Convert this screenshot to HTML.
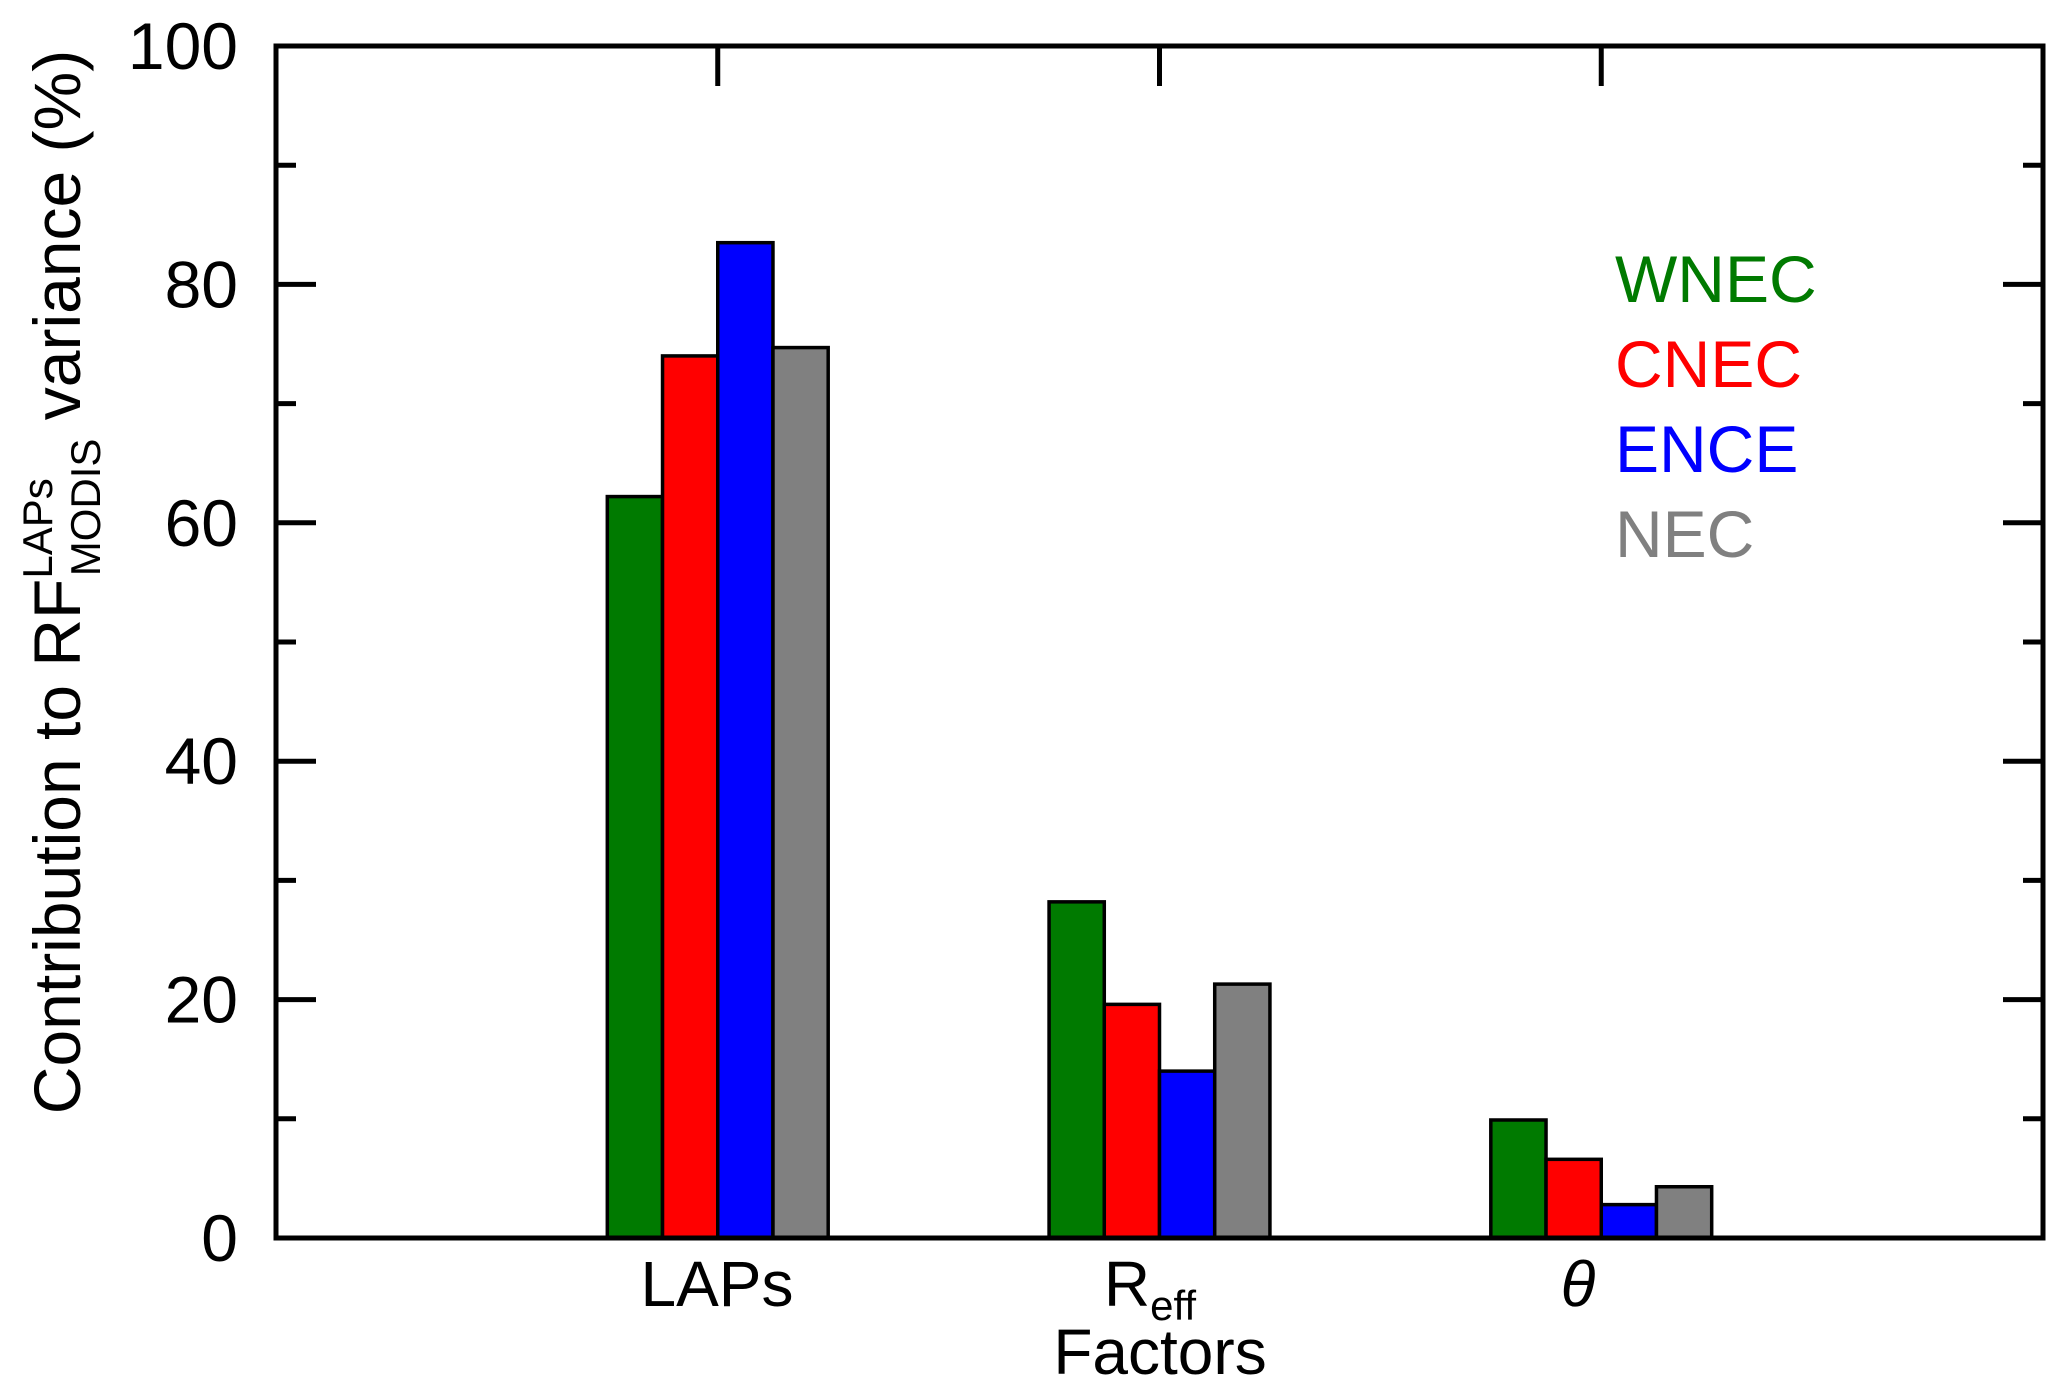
<!DOCTYPE html>
<html><head><meta charset="utf-8"><style>
html,body{margin:0;padding:0;background:#fff;}
svg{display:block;font-family:"Liberation Sans",Arial,sans-serif;}
</style></head><body>
<svg id="chart" width="2067" height="1399" viewBox="0 0 2067 1399" xmlns="http://www.w3.org/2000/svg">
<g id="bars"></g>
<g id="axes"></g>
<g font-size="66">
<text x="1615" y="302" fill="#007a00">WNEC</text>
<text x="1615" y="387" fill="#ff0000">CNEC</text>
<text x="1615" y="472" fill="#0000ff">ENCE</text>
<text x="1615" y="557" fill="#808080">NEC</text>
</g>
<g font-size="64" text-anchor="middle">
<text x="717" y="1306">LAPs</text>
<text x="1150" y="1306">R<tspan font-size="42" dy="14">eff</tspan></text>
<text x="1578" y="1306" font-style="italic">θ</text>
<text x="1160" y="1374">Factors</text>
</g>
<text transform="translate(80,582) rotate(-90)" text-anchor="middle" font-size="66">Contribution to RF<tspan font-size="42" dy="-28">LAPs</tspan><tspan font-size="42" dx="-98" dy="48">MODIS</tspan><tspan dy="-20"> variance (%)</tspan></text>
</svg>
<script>
const categories = ["LAPs","Reff","theta"];
const seriesNames = ["WNEC","CNEC","ENCE","NEC"];
const wnec = [62.2, 28.2, 9.9];
const cnec = [74.0, 19.6, 6.6];
const ence = [83.5, 14.0, 2.8];
const nec = [74.7, 21.3, 4.3];
const yTicks = [0,20,40,60,80,100];
const seriesValues = [wnec, cnec, ence, nec];
const colors = ["#007a00","#ff0000","#0000ff","#808080"];
const NS = "http://www.w3.org/2000/svg";
const L=276, R=2043, T=46, B=1238;
function xs(v){return L+(v/4)*(R-L);}
function ys(v){return B-(v/100)*(B-T);}
function mk(tag,attrs,parent){const e=document.createElementNS(NS,tag);for(const k in attrs)e.setAttribute(k,attrs[k]);parent.appendChild(e);return e;}
const bars=document.getElementById('bars');
const bw=0.125;
categories.forEach((c,ci)=>{
  seriesValues.forEach((s,si)=>{
    const x0=xs(ci+1-2*bw+si*bw), x1=xs(ci+1-2*bw+(si+1)*bw);
    const r=mk('rect',{x:x0,y:ys(s[ci]),width:x1-x0,height:ys(0)-ys(s[ci]),fill:colors[si],stroke:'#000','stroke-width':3.5},bars);
    
    
  });
});
const ax=document.getElementById('axes');
const frame=mk('rect',{x:L,y:T,width:R-L,height:B-T,fill:'none',stroke:'#000','stroke-width':5},ax);


for(let v=0;v<=100;v+=10){
  const len=(v%20===0)?40:20;
  const t1=mk('line',{x1:L,x2:L+len,y1:ys(v),y2:ys(v),stroke:'#000','stroke-width':5},ax);
  
  
  const t2=mk('line',{x1:R,x2:R-len,y1:ys(v),y2:ys(v),stroke:'#000','stroke-width':5},ax);
  
  
}
yTicks.forEach(v=>{
  const t=mk('text',{x:238,y:ys(v)+23,'text-anchor':'end','font-size':66},ax);
  t.textContent=v;
  
  
});
categories.forEach((c,ci)=>{
  const t=mk('line',{x1:xs(ci+1),x2:xs(ci+1),y1:T,y2:T+40,stroke:'#000','stroke-width':5},ax);
  
  
});
</script>
</body></html>
